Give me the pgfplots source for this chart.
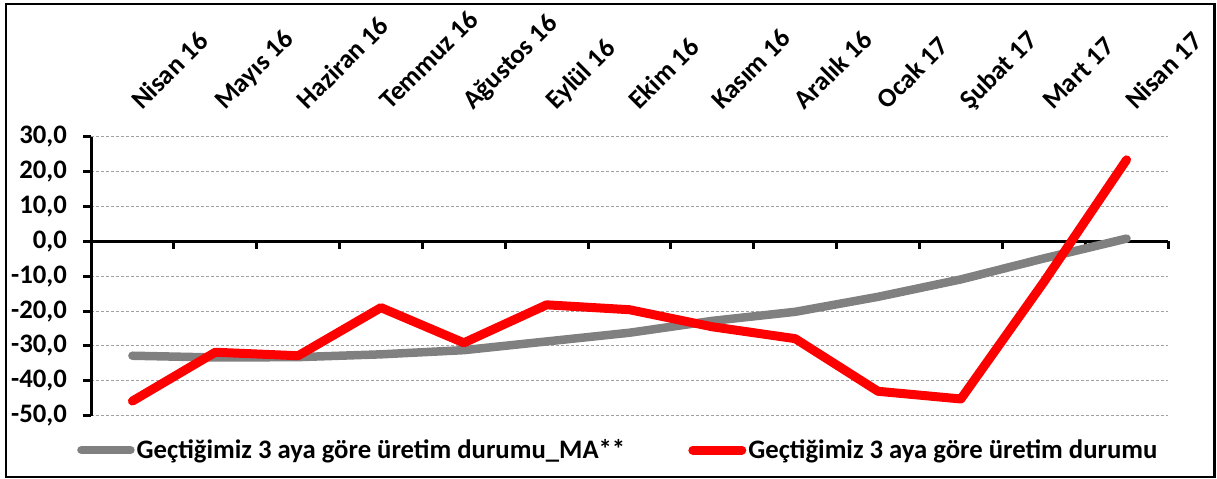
\documentclass[border=0pt]{standalone}
\usepackage{fontspec}
\setmainfont{Carlito}
\usepackage{pgfplots}
\pgfplotsset{compat=1.18}
\definecolor{ggray}{RGB}{128,128,128}
\definecolor{rred}{RGB}{255,0,0}
\definecolor{gridc}{RGB}{160,160,160}
\newcommand\lab{\fontsize{26.7bp}{31bp}\selectfont\bfseries}
\begin{document}
\begin{tikzpicture}
\useasboundingbox (0,0) rectangle (1217bp,479bp);
\draw[line width=2.5bp] (6bp,2bp) rectangle (1214.5bp,475bp);
\begin{axis}[
  at={(91bp,63.3bp)}, anchor=south west,
  width=1077bp, height=278.9bp, scale only axis,
  xmin=-0.5, xmax=12.5, ymin=-50, ymax=30,
  clip=false,
  axis y line*=left,
  axis x line*=top,
  x axis line style={draw=none},
  y axis line style={line width=3bp, -},
  xtick={0,1,2,3,4,5,6,7,8,9,10,11,12},
  xticklabels={Nisan 16, Mayıs 16, Haziran 16, Temmuz 16, Ağustos 16, Eylül 16, Ekim 16, Kasım 16, Aralık 16, Ocak 17, Şubat 17, Mart 17, Nisan 17},
  xtick style={draw=none},
  xticklabel style={font=\lab, xshift=9.6bp, yshift=18bp, rotate=45, anchor=base west, inner sep=0pt},
  ytick={-50,-40,-30,-20,-10,0,10,20,30},
  yticklabels={{-50,0},{-40,0},{-30,0},{-20,0},{-10,0},{0,0},{10,0},{20,0},{30,0}},
  yticklabel style={font=\lab, anchor=east, inner sep=0pt, xshift=-16bp},
  ytick style={line width=3bp, black},
  tick align=outside,
  major tick length=8bp,
  ymajorgrids,
  grid style={gridc, dash pattern=on 3bp off 2bp, line width=1bp},
  legend style={draw=none, fill=none, font=\lab, inner sep=0pt,
    at={(axis description cs:-0.013,-0.123)}, anchor=west,
    /tikz/every even column/.append style={column sep=61bp}},
  legend columns=2,
  legend cell align=left,
  legend image code/.code={\draw[#1, line cap=round] (0bp,0bp) -- (49bp,0bp);},
]
\draw[line width=3bp] (axis cs:-0.5,0) -- (axis cs:12.5,0);
\pgfplotsinvokeforeach{0.5,1.5,2.5,3.5,4.5,5.5,6.5,7.5,8.5,9.5,10.5,11.5,12.5}{
  \draw[line width=3bp] (axis cs:#1,0) -- ([yshift=-8bp]axis cs:#1,0);
}
\addplot[ggray, line width=8.5bp, line join=round, line cap=round, mark=none] coordinates {
(0,-32.8) (1,-33.3) (2,-33.2) (3,-32.4) (4,-31.2) (5,-28.7) (6,-26.2) (7,-22.8) (8,-20.2) (9,-15.9) (10,-10.9) (11,-4.9) (12,0.8)
};
\addlegendentry{Geçtiğimiz 3 aya göre üretim durumu\_MA**}
\addplot[rred, line width=9bp, line join=round, line cap=round, mark=none] coordinates {
(0,-45.8) (1,-31.8) (2,-32.8) (3,-19.0) (4,-29.1) (5,-18.2) (6,-19.6) (7,-24.5) (8,-27.9) (9,-43.0) (10,-45.2) (11,-11.7) (12,23.4)
};
\addlegendentry{Geçtiğimiz 3 aya göre üretim durumu}
\end{axis}
\end{tikzpicture}
\end{document}
